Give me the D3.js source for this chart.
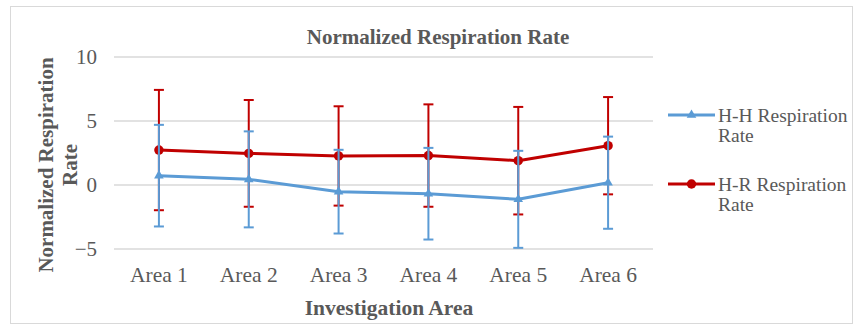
<!DOCTYPE html>
<html>
<head>
<meta charset="utf-8">
<script src="https://cdn.jsdelivr.net/npm/d3@7"></script>
<style>
  body { margin: 0; background: #fff; }
  text { font-family: "Liberation Serif", "Times New Roman", serif; fill: #595959; }
</style>
</head>
<body>
<div id="chart"></div>
<script>
// data
var areas = ["Area 1", "Area 2", "Area 3", "Area 4", "Area 5", "Area 6"];
var hhRate = [0.73, 0.44, -0.52, -0.68, -1.12, 0.18];
var hhErr = [3.97, 3.75, 3.27, 3.58, 3.79, 3.6];
var hrRate = [2.73, 2.47, 2.27, 2.3, 1.9, 3.07];
var hrErr = [4.7, 4.17, 3.88, 4.0, 4.2, 3.8];
var yTicks = [-5, 0, 5, 10];
var seriesNames = ["H-H Respiration Rate", "H-R Respiration Rate"];

var svgWidth = 854;
var svgHeight = 325;

var margin = { top: 57, right: 201, bottom: 76, left: 114 };
var width = svgWidth - margin.left - margin.right;
var height = svgHeight - margin.top - margin.bottom;

var svg = d3.select("#chart")
    .append("svg")
    .attr("width", svgWidth)
    .attr("height", svgHeight);

// chart frame
svg.append("rect")
    .attr("x", 10.5).attr("y", 6.5)
    .attr("width", 842).attr("height", 317)
    .attr("fill", "none")
    .attr("stroke", "#d9d9d9");

var chartGroup = svg.append("g")
    .attr("transform", `translate(${margin.left},${margin.top})`);

var xScale = d3.scaleBand()
    .domain(areas)
    .range([0, width]);

var yScale = d3.scaleLinear()
    .domain([-5, 10])
    .range([height, 0]);

// gridlines
chartGroup.append("g")
    .selectAll("line")
    .data(yTicks)
    .enter()
    .append("line")
    .attr("x1", 0).attr("x2", width)
    .attr("y1", d => yScale(d)).attr("y2", d => yScale(d))
    .attr("stroke", "#d9d9d9")
    .attr("stroke-width", 1.3);

// y axis labels
var leftAxis = d3.axisLeft(yScale).tickValues(yTicks).tickSize(0).tickPadding(17);
var yAxis = chartGroup.append("g").call(leftAxis);
yAxis.select(".domain").remove();
yAxis.selectAll("text")
    .style("font-size", "21px")
    .attr("fill", "#595959");

// x axis labels
var bottomAxis = d3.axisBottom(xScale).tickSize(0).tickPadding(18);
var xAxis = chartGroup.append("g")
    .attr("transform", `translate(0, ${height})`)
    .call(bottomAxis);
xAxis.select(".domain").remove();
xAxis.selectAll("text")
    .style("font-size", "21.5px")
    .attr("fill", "#595959");

var cx = d => xScale(d) + xScale.bandwidth() / 2;

function drawSeries(values, errs, color, marker) {
    var g = chartGroup.append("g");
    var rows = areas.map((a, i) => ({ area: a, v: values[i], e: errs[i] }));

    // error bars
    var eb = g.selectAll("g.err").data(rows).enter().append("g");
    eb.append("line")
        .attr("x1", d => cx(d.area)).attr("x2", d => cx(d.area))
        .attr("y1", d => yScale(d.v + d.e)).attr("y2", d => yScale(d.v - d.e))
        .attr("stroke", color).attr("stroke-width", 2);
    [1, -1].forEach(function(s) {
        eb.append("line")
            .attr("x1", d => cx(d.area) - 5).attr("x2", d => cx(d.area) + 5)
            .attr("y1", d => yScale(d.v + s * d.e)).attr("y2", d => yScale(d.v + s * d.e))
            .attr("stroke", color).attr("stroke-width", 2);
    });

    var line = d3.line().x(d => cx(d.area)).y(d => yScale(d.v));
    g.append("path")
        .datum(rows)
        .attr("d", line)
        .attr("fill", "none")
        .attr("stroke", color)
        .attr("stroke-width", 3)
        .attr("stroke-linejoin", "round");

    g.selectAll("path.mk").data(rows).enter().append("path")
        .attr("d", d3.symbol().type(marker).size(marker === d3.symbolCircle ? 70 : 40))
        .attr("transform", d => `translate(${cx(d.area)},${yScale(d.v)})`)
        .attr("fill", color);
}

drawSeries(hrRate, hrErr, "#c00000", d3.symbolCircle);
drawSeries(hhRate, hhErr, "#5b9bd5", d3.symbolTriangle);

// title
svg.append("text")
    .attr("x", 438).attr("y", 44)
    .attr("text-anchor", "middle")
    .style("font-size", "21px")
    .style("font-weight", "bold")
    .text("Normalized Respiration Rate");

// y axis title
var yTitle = svg.append("text")
    .attr("transform", "translate(53,165) rotate(-90)")
    .attr("text-anchor", "middle")
    .style("font-size", "21px")
    .style("font-weight", "bold");
yTitle.append("tspan").attr("x", 0).attr("dy", 0).text("Normalized Respiration");
yTitle.append("tspan").attr("x", 0).attr("dy", 24).text("Rate");

// x axis title
svg.append("text")
    .attr("x", 389).attr("y", 315)
    .attr("text-anchor", "middle")
    .style("font-size", "21.5px")
    .style("font-weight", "bold")
    .text("Investigation Area");

// legend
var legendItems = [
    { name: seriesNames[0], color: "#5b9bd5", marker: d3.symbolTriangle, y: 115 },
    { name: seriesNames[1], color: "#c00000", marker: d3.symbolCircle, y: 184 }
];
var legend = svg.append("g");
legendItems.forEach(function(it) {
    legend.append("line")
        .attr("x1", 668).attr("x2", 715)
        .attr("y1", it.y).attr("y2", it.y)
        .attr("stroke", it.color).attr("stroke-width", 3);
    legend.append("path")
        .attr("d", d3.symbol().type(it.marker).size(it.marker === d3.symbolCircle ? 70 : 40))
        .attr("transform", `translate(691.5,${it.y})`)
        .attr("fill", it.color);
    var words = it.name.split(" ");
    var t = legend.append("text")
        .attr("x", 718).attr("y", it.y + 7)
        .style("font-size", "19.5px");
    t.append("tspan").attr("x", 718).text(words[0] + " " + words[1]);
    t.append("tspan").attr("x", 718).attr("dy", 20).text(words[2]);
});
</script>
</body>
</html>
